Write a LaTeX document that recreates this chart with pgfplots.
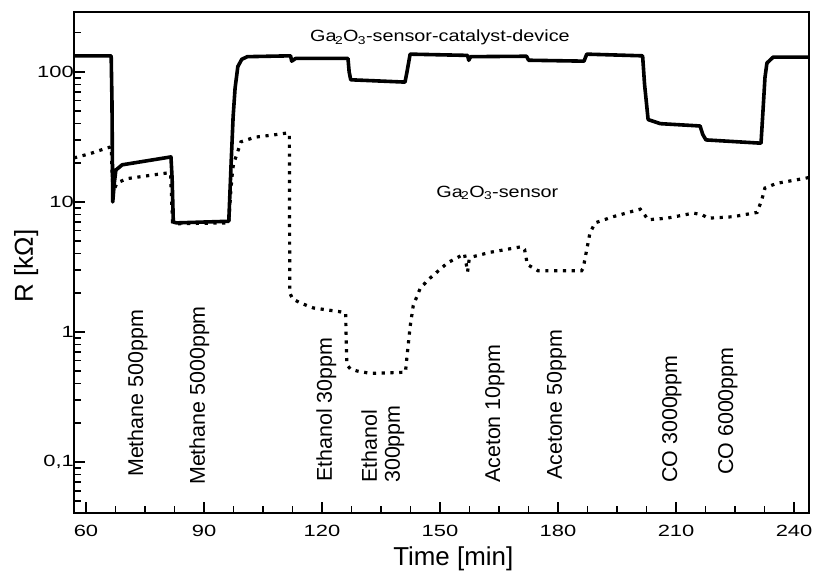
\documentclass[border=0pt]{standalone}
\usepackage{fontspec}
\setmainfont{Liberation Sans}
\newfontfamily\tickfont{Liberation Sans}[FakeStretch=1.35]
\newfontfamily\lblfont{Liberation Sans}[FakeStretch=1.22]
\usepackage{pgfplots}
\pgfplotsset{compat=1.18}

\begin{document}
\begin{tikzpicture}
\begin{axis}[
  scale only axis, width=735bp, height=501bp,
  xmin=56.95, xmax=243.8,
  ymode=log, ymin=0.0405, ymax=289,
  xtick={60,90,...,240},
  minor x tick num=3,
  ytick={0.1,1,10,100},
  yticklabels={0{,}1,1,10,100},
  minor ytick={0.05,0.06,0.07,0.08,0.09,0.2,0.3,0.4,0.5,0.6,0.7,0.8,0.9,2,3,4,5,6,7,8,9,20,30,40,50,60,70,80,90,200},
  tick pos=left, tick align=inside,
  major tick length=11bp, minor tick length=7bp,
  major tick style={line width=1.6bp, black},
  minor tick style={line width=1.4bp, black},
  axis line style={line width=1.8bp},
  /pgf/number format/assume math mode=true,
  ticklabel style={font=\tickfont\fontsize{16.3}{18}\selectfont},
  yticklabel style={inner xsep=0pt},
  xticklabel style={inner ysep=0pt, yshift=-12bp},
  xlabel={Time [min]},
  ylabel={R [kΩ]},
  label style={font=\fontsize{26}{30}\selectfont},
  xlabel style={at={(axis description cs:0.516,-0.1038)}, anchor=base},
  ylabel style={at={(axis description cs:-0.0558,0.493)}, anchor=base},
]
% Ga2O3-sensor (dotted)
\addplot[black, line width=3.2bp, dash pattern=on 3.2bp off 5.6bp] coordinates {
(56.95,21.8) (61,23.5) (65.3,26) (66.4,26.5) (66.7,15) (66.9,12) (67.9,14) (70.4,15.1)
(80.6,16.7) (81.5,16.5) (82.0,7.0) (83,6.8) (96.3,6.9) (96.8,12) (97.3,18) (97.6,20)
(98.5,24) (99.4,29) (103,31.5) (107.8,32.8) (111.4,34) (111.7,33) (111.8,2.0) (112.5,1.8)
(114.5,1.67) (117.8,1.53) (124.6,1.43) (126.0,1.40) (126.3,0.56) (127.2,0.52) (129,0.50)
(132.3,0.48) (141.2,0.49) (141.7,0.69) (142.4,1.1) (143.2,1.6) (145,2.18) (147.5,2.6)
(151.9,3.4) (155.6,3.9) (156.2,4.0) (156.7,3.3) (157.0,2.9) (157.4,3.6) (158.5,3.8)
(162.8,4.1) (170.8,4.53) (171.5,4.3) (172.2,3.3) (174.9,2.96) (186,2.96) (186.4,3.1)
(187.3,4.3) (188.1,5.75) (189.4,6.9) (194,7.7) (200.9,8.8) (201.7,8.2) (202.9,7.3)
(207.7,7.5) (214.4,8.2) (216.5,8.0) (218.2,7.5) (224.5,7.7) (230.6,8.3) (231.8,10.4)
(232.6,12.8) (235.6,13.9) (243.8,15.4)
};
% Ga2O3-sensor-catalyst-device (solid)
\addplot[black, line width=3.6bp, line join=round] coordinates {
(56.95,133) (66.4,133) (66.6,60) (66.8,10.0) (67.2,14) (67.6,17.6) (69.2,19.3)
(81.6,22.2) (81.9,15) (82.2,7.0) (83,6.9) (96.3,7.1) (96.9,20) (97.4,45) (97.9,75)
(98.6,110) (99.6,125) (101,131) (112,133) (112.3,121) (113.3,127) (126.6,127)
(126.9,100) (127.3,87) (141.1,83.5) (141.6,100) (142.4,137) (157,134) (157.3,123)
(157.8,131) (172,132) (172.5,123) (186.6,121) (187.3,137) (201.5,133) (202.0,80)
(202.9,43) (206,40) (216.1,38.4) (216.8,33) (217.6,30) (231.6,28.3) (232.1,50)
(232.6,90) (233.1,117) (234.7,130) (243.8,130)
};
% annotations
\node[anchor=base west, inner sep=0pt, font=\lblfont\fontsize{16.3}{18}\selectfont]
  at (axis description cs:0.3211,0.9407) {Ga\kern-0.1em\textsubscript{2}O\kern-0.05em\textsubscript{3}-sensor-catalyst-device};
\node[anchor=base west, inner sep=0pt, font=\lblfont\fontsize{16.3}{18}\selectfont]
  at (axis description cs:0.4928,0.6307) {Ga\kern-0.1em\textsubscript{2}O\kern-0.05em\textsubscript{3}-sensor};
\tikzset{ann/.style={rotate=90, anchor=base west, inner sep=0pt, font=\fontsize{21.5}{24}\selectfont}}
\node[ann] at (axis description cs:0.0939,0.0719) {Methane 500ppm};
\node[ann] at (axis description cs:0.1782,0.0559) {Methane 5000ppm};
\node[ann] at (axis description cs:0.3510,0.0619) {Ethanol 30ppm};
\node[ann] at (axis description cs:0.4122,0.0599) {Ethanol};
\node[ann] at (axis description cs:0.4435,0.0599) {300ppm};
\node[ann] at (axis description cs:0.5796,0.0599) {Aceton 10ppm};
\node[ann] at (axis description cs:0.6639,0.0659) {Acetone 50ppm};
\node[ann] at (axis description cs:0.8204,0.0599) {CO 3000ppm};
\node[ann] at (axis description cs:0.8966,0.0758) {CO 6000ppm};
\coordinate (ll) at (axis description cs:-0.10068,-0.11776);
\coordinate (ur) at (axis description cs:1.00816,1.02395);
\end{axis}
\pgfresetboundingbox
\path (ll) rectangle (ur);
\end{tikzpicture}
\end{document}
